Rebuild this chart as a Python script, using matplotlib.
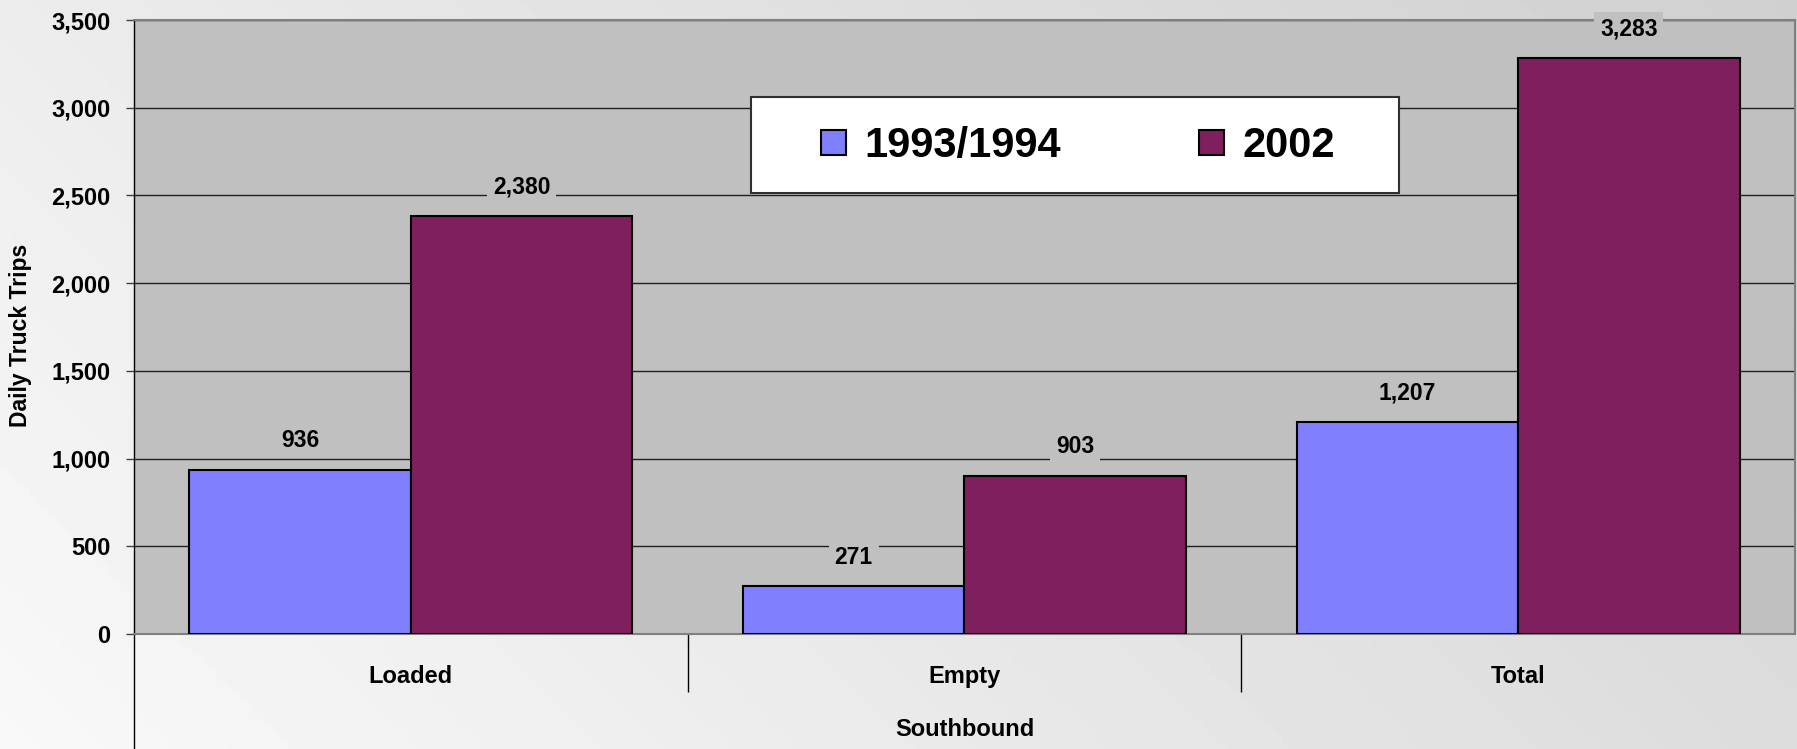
import matplotlib
matplotlib.use('Agg')
import matplotlib.pyplot as plt
import numpy as np
from matplotlib.patches import Patch, Rectangle

plt.rcParams['font.family'] = ['Liberation Sans', 'DejaVu Sans']
plt.rcParams['font.weight'] = 'bold'

categories = ['Loaded', 'Empty', 'Total']
series_names = ['1993/1994', '2002']
trips_1993 = [936, 271, 1207]
trips_2002 = [2380, 903, 3283]
y_ticks = [0, 500, 1000, 1500, 2000, 2500, 3000, 3500]

colors = ['#8080FF', '#801F5E']

fig = plt.figure(figsize=(17.97, 7.49), dpi=100)

# background gradient
bg = fig.add_axes([0, 0, 1, 1], zorder=-10)
u, v = np.meshgrid(np.linspace(0, 1, 300), np.linspace(1, 0, 150))
t = 0.7 * u + 0.3 * v
bg.imshow(0.975 - 0.16 * t, cmap='gray', vmin=0, vmax=1, aspect='auto',
          extent=[0, 1, 0, 1])
bg.axis('off')

ax = fig.add_axes([134 / 1797, 115 / 749, 1661 / 1797, 614 / 749])
ax.set_facecolor('#C0C0C0')

x = np.arange(len(categories))
w = 0.4
bars1 = ax.bar(x - w / 2, trips_1993, w, color=colors[0], edgecolor='black', linewidth=1.5, zorder=3)
bars2 = ax.bar(x + w / 2, trips_2002, w, color=colors[1], edgecolor='black', linewidth=1.5, zorder=3)

for bars in (bars1, bars2):
    for b in bars:
        h = b.get_height()
        ax.annotate(f'{h:,.0f}', (b.get_x() + b.get_width() / 2, h),
                    xytext=(0, 21), textcoords='offset points',
                    ha='center', va='center', fontsize=16.5, fontweight='bold',
                    bbox=dict(boxstyle='square,pad=0.25', facecolor='#C0C0C0', edgecolor='none'),
                    zorder=4)

ax.set_xlim(-0.5, 2.5)
ax.set_ylim(0, 3500)
ax.set_yticks(y_ticks)
ax.set_yticklabels([f'{v:,}' for v in y_ticks], fontsize=17, fontweight='bold')
ax.tick_params(axis='y', length=6, width=1, color='#404040', pad=11)
ax.yaxis.grid(True, color='#202020', linewidth=1)
ax.set_axisbelow(True)

ax.set_xticks(x)
ax.set_xticklabels(categories, fontsize=17, fontweight='bold')
ax.tick_params(axis='x', which='major', length=0, pad=22)
ax.set_xticks([0.5, 1.5], minor=True)
ax.tick_params(axis='x', which='minor', length=42, width=1, color='black', direction='out')

for side in ('top', 'right', 'bottom'):
    ax.spines[side].set_color('#808080')
    ax.spines[side].set_linewidth(1.5)
ax.spines['left'].set_color('black')
ax.spines['left'].set_linewidth(1)
ax.plot([0, 0], [0, -0.2], transform=ax.transAxes, color='black', lw=1, clip_on=False)

ax.text(0.5, -0.155, 'Southbound', transform=ax.transAxes, ha='center', va='center',
        fontsize=17, fontweight='bold')

ax.set_ylabel('Daily Truck Trips', fontsize=16.5, fontweight='bold', va='center')
ax.yaxis.set_label_coords(-0.0686, 0.487)

# legend box
fig.patches.append(Rectangle((751 / 1797, 1 - 193 / 749), 648 / 1797, 96 / 749,
                             transform=fig.transFigure, facecolor='white',
                             edgecolor='#303030', linewidth=1.5, zorder=5))
handles = [Patch(facecolor=c, edgecolor='black', linewidth=1.5) for c in colors]
leg = fig.legend(handles, series_names, loc='center', ncol=2,
                 bbox_to_anchor=(1078 / 1797, 1 - 146 / 749), frameon=False,
                 prop={'size': 30, 'weight': 'bold'}, handlelength=0.6, handleheight=0.55,
                 handletextpad=0.45, columnspacing=3.3)
leg.set_zorder(6)

fig.savefig('out.png', dpi=100)
